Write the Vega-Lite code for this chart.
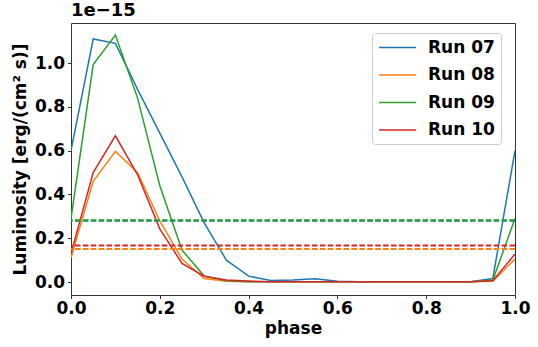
{
  "$schema": "https://vega.github.io/schema/vega-lite/v6.json",
  "autosize": {"type": "none"},
  "padding": {"left": 71, "top": 23, "right": 23, "bottom": 52},
  "width": 444,
  "height": 272,
  "config": {
    "font": "DejaVu Sans",
    "view": {"stroke": "#333333", "strokeWidth": 1},
    "axis": {
      "grid": false,
      "domain": false,
      "tickColor": "#333333",
      "tickSize": 3.5,
      "labelFontSize": 17,
      "labelFontWeight": "bold",
      "labelColor": "black",
      "titleFontSize": 17,
      "titleFontWeight": "bold",
      "titleColor": "black"
    }
  },
  "title": {
    "text": "1e\u221215",
    "anchor": "start",
    "frame": "group",
    "fontSize": 18,
    "fontWeight": "bold",
    "color": "black",
    "offset": 3
  },
  "datasets": {
    "lines": [
      {"phase": 0.00, "run": "Run 07", "lum": 0.600},
      {"phase": 0.05, "run": "Run 07", "lum": 1.110},
      {"phase": 0.10, "run": "Run 07", "lum": 1.090},
      {"phase": 0.15, "run": "Run 07", "lum": 0.880},
      {"phase": 0.20, "run": "Run 07", "lum": 0.680},
      {"phase": 0.25, "run": "Run 07", "lum": 0.480},
      {"phase": 0.30, "run": "Run 07", "lum": 0.270},
      {"phase": 0.35, "run": "Run 07", "lum": 0.100},
      {"phase": 0.40, "run": "Run 07", "lum": 0.027},
      {"phase": 0.45, "run": "Run 07", "lum": 0.007},
      {"phase": 0.50, "run": "Run 07", "lum": 0.009},
      {"phase": 0.55, "run": "Run 07", "lum": 0.015},
      {"phase": 0.60, "run": "Run 07", "lum": 0.004},
      {"phase": 0.65, "run": "Run 07", "lum": 0.002},
      {"phase": 0.70, "run": "Run 07", "lum": 0.001},
      {"phase": 0.75, "run": "Run 07", "lum": 0.001},
      {"phase": 0.80, "run": "Run 07", "lum": 0.001},
      {"phase": 0.85, "run": "Run 07", "lum": 0.001},
      {"phase": 0.90, "run": "Run 07", "lum": 0.001},
      {"phase": 0.95, "run": "Run 07", "lum": 0.016},
      {"phase": 1.00, "run": "Run 07", "lum": 0.600},
      {"phase": 0.00, "run": "Run 08", "lum": 0.110},
      {"phase": 0.05, "run": "Run 08", "lum": 0.460},
      {"phase": 0.10, "run": "Run 08", "lum": 0.597},
      {"phase": 0.15, "run": "Run 08", "lum": 0.500},
      {"phase": 0.20, "run": "Run 08", "lum": 0.280},
      {"phase": 0.25, "run": "Run 08", "lum": 0.105},
      {"phase": 0.30, "run": "Run 08", "lum": 0.016},
      {"phase": 0.35, "run": "Run 08", "lum": 0.004},
      {"phase": 0.40, "run": "Run 08", "lum": 0.002},
      {"phase": 0.45, "run": "Run 08", "lum": 0.001},
      {"phase": 0.50, "run": "Run 08", "lum": 0.001},
      {"phase": 0.55, "run": "Run 08", "lum": 0.001},
      {"phase": 0.60, "run": "Run 08", "lum": 0.001},
      {"phase": 0.65, "run": "Run 08", "lum": 0.001},
      {"phase": 0.70, "run": "Run 08", "lum": 0.001},
      {"phase": 0.75, "run": "Run 08", "lum": 0.001},
      {"phase": 0.80, "run": "Run 08", "lum": 0.001},
      {"phase": 0.85, "run": "Run 08", "lum": 0.001},
      {"phase": 0.90, "run": "Run 08", "lum": 0.001},
      {"phase": 0.95, "run": "Run 08", "lum": 0.004},
      {"phase": 1.00, "run": "Run 08", "lum": 0.105},
      {"phase": 0.00, "run": "Run 09", "lum": 0.290},
      {"phase": 0.05, "run": "Run 09", "lum": 0.993},
      {"phase": 0.10, "run": "Run 09", "lum": 1.128},
      {"phase": 0.15, "run": "Run 09", "lum": 0.840},
      {"phase": 0.20, "run": "Run 09", "lum": 0.440},
      {"phase": 0.25, "run": "Run 09", "lum": 0.146},
      {"phase": 0.30, "run": "Run 09", "lum": 0.028},
      {"phase": 0.35, "run": "Run 09", "lum": 0.006},
      {"phase": 0.40, "run": "Run 09", "lum": 0.002},
      {"phase": 0.45, "run": "Run 09", "lum": 0.001},
      {"phase": 0.50, "run": "Run 09", "lum": 0.001},
      {"phase": 0.55, "run": "Run 09", "lum": 0.001},
      {"phase": 0.60, "run": "Run 09", "lum": 0.001},
      {"phase": 0.65, "run": "Run 09", "lum": 0.001},
      {"phase": 0.70, "run": "Run 09", "lum": 0.001},
      {"phase": 0.75, "run": "Run 09", "lum": 0.001},
      {"phase": 0.80, "run": "Run 09", "lum": 0.001},
      {"phase": 0.85, "run": "Run 09", "lum": 0.001},
      {"phase": 0.90, "run": "Run 09", "lum": 0.001},
      {"phase": 0.95, "run": "Run 09", "lum": 0.008},
      {"phase": 1.00, "run": "Run 09", "lum": 0.290},
      {"phase": 0.00, "run": "Run 10", "lum": 0.130},
      {"phase": 0.05, "run": "Run 10", "lum": 0.500},
      {"phase": 0.10, "run": "Run 10", "lum": 0.668},
      {"phase": 0.15, "run": "Run 10", "lum": 0.490},
      {"phase": 0.20, "run": "Run 10", "lum": 0.243},
      {"phase": 0.25, "run": "Run 10", "lum": 0.085},
      {"phase": 0.30, "run": "Run 10", "lum": 0.027},
      {"phase": 0.35, "run": "Run 10", "lum": 0.010},
      {"phase": 0.40, "run": "Run 10", "lum": 0.005},
      {"phase": 0.45, "run": "Run 10", "lum": 0.002},
      {"phase": 0.50, "run": "Run 10", "lum": 0.001},
      {"phase": 0.55, "run": "Run 10", "lum": 0.001},
      {"phase": 0.60, "run": "Run 10", "lum": 0.001},
      {"phase": 0.65, "run": "Run 10", "lum": 0.001},
      {"phase": 0.70, "run": "Run 10", "lum": 0.001},
      {"phase": 0.75, "run": "Run 10", "lum": 0.001},
      {"phase": 0.80, "run": "Run 10", "lum": 0.001},
      {"phase": 0.85, "run": "Run 10", "lum": 0.001},
      {"phase": 0.90, "run": "Run 10", "lum": 0.001},
      {"phase": 0.95, "run": "Run 10", "lum": 0.006},
      {"phase": 1.00, "run": "Run 10", "lum": 0.128}
    ],
    "levels": [
      {"run": "Run 07", "level": 0.280},
      {"run": "Run 08", "level": 0.151},
      {"run": "Run 09", "level": 0.282},
      {"run": "Run 10", "level": 0.167}
    ]
  },
  "layer": [
    {
      "data": {"name": "lines"},
      "mark": {"type": "line", "strokeWidth": 1.5, "clip": true},
      "encoding": {
        "x": {
          "field": "phase", "type": "quantitative",
          "scale": {"domain": [0, 1], "nice": false, "zero": false},
          "axis": {"values": [0, 0.2, 0.4, 0.6, 0.8, 1.0], "format": ".1f", "title": "phase", "labelPadding": 2, "titlePadding": 4, "labelFlush": false}
        },
        "y": {
          "field": "lum", "type": "quantitative",
          "scale": {"domain": [-0.059, 1.183], "nice": false, "zero": false},
          "axis": {"values": [0, 0.2, 0.4, 0.6, 0.8, 1.0], "format": ".1f", "title": "Luminosity [erg/(cm\u00b2 s)]", "labelPadding": 3, "titlePadding": 5}
        },
        "color": {
          "field": "run", "type": "nominal",
          "scale": {"domain": ["Run 07", "Run 08", "Run 09", "Run 10"], "range": ["#1f77b4", "#ff7f0e", "#2ca02c", "#d62728"]},
          "legend": {
            "title": null,
            "orient": "none",
            "legendX": 301,
            "legendY": 10,
            "symbolType": "M-1,0H4",
            "symbolSize": 219,
            "symbolStrokeWidth": 1.5,
            "labelOffset": 33,
            "labelFontSize": 17,
            "labelFontWeight": "bold",
            "labelColor": "black",
            "rowPadding": 9.5,
            "padding": 6,
            "strokeColor": "#cccccc",
            "fillColor": "white",
            "cornerRadius": 3
          }
        },
        "detail": {"field": "run"}
      }
    },
    {
      "data": {"name": "levels"},
      "mark": {"type": "rule", "strokeWidth": 2, "strokeDash": [5.5, 2.4]},
      "encoding": {
        "y": {"field": "level", "type": "quantitative"},
        "color": {"field": "run", "type": "nominal", "legend": null}
      }
    }
  ]
}
